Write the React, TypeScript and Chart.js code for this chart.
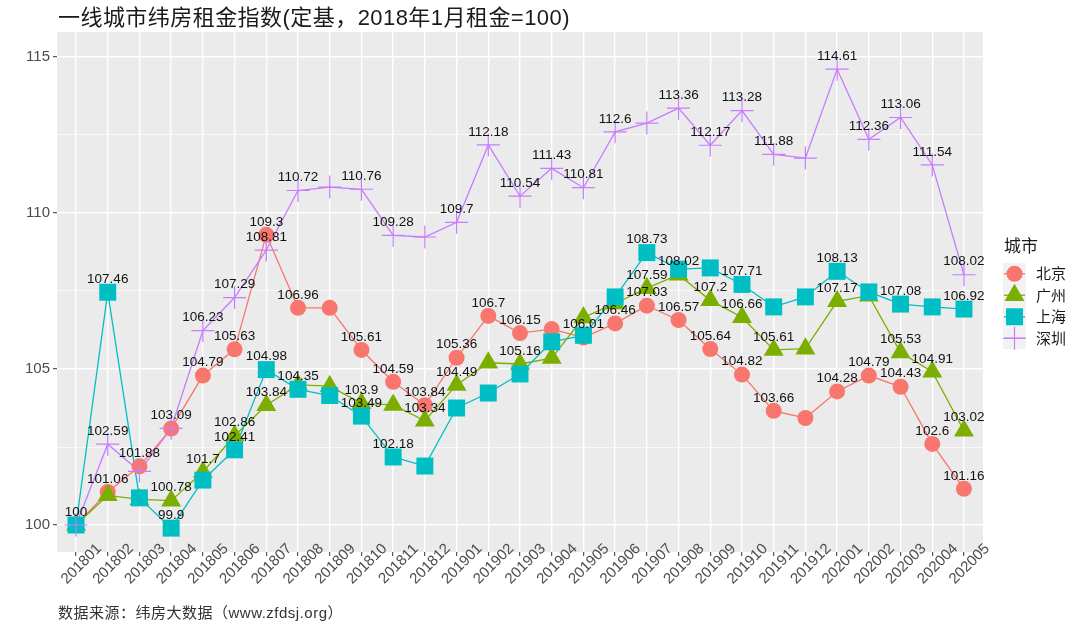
import { useEffect, useRef } from "react";
import { Chart, registerables } from "chart.js";

Chart.register(...registerables);

const months = [
  "201801", "201802", "201803", "201804", "201805", "201806", "201807", "201808", "201809", "201810",
  "201811", "201812", "201901", "201902", "201903", "201904", "201905", "201906", "201907", "201908",
  "201909", "201910", "201911", "201912", "202001", "202002", "202003", "202004", "202005",
];

const cities = ["北京", "广州", "上海", "深圳"];

const beijing = [100, 101.06, 101.88, 103.09, 104.79, 105.63, 109.3, 106.96, 106.96, 105.61, 104.59, 103.84, 105.36, 106.7, 106.15, 106.28, 106.01, 106.46, 107.03, 106.57, 105.64, 104.82, 103.66, 103.43, 104.28, 104.79, 104.43, 102.6, 101.16];
const guangzhou = [100, 100.95, 100.82, 100.78, 101.7, 102.86, 103.84, 104.49, 104.45, 103.9, 103.85, 103.34, 104.49, 105.2, 105.16, 105.35, 106.65, 107.1, 107.59, 108.02, 107.2, 106.66, 105.61, 105.65, 107.17, 107.35, 105.53, 104.91, 103.02];
const shanghai = [100, 107.46, 100.87, 99.9, 101.44, 102.41, 104.98, 104.35, 104.15, 103.49, 102.18, 101.89, 103.75, 104.23, 104.84, 105.87, 106.08, 107.31, 108.73, 108.2, 108.24, 107.71, 106.99, 107.31, 108.13, 107.47, 107.08, 106.99, 106.92];
const shenzhen = [100, 102.59, 101.72, 103.1, 106.23, 107.29, 108.81, 110.72, 110.83, 110.76, 109.28, 109.23, 109.7, 112.18, 110.54, 111.43, 110.81, 112.6, 112.88, 113.36, 112.17, 113.28, 111.88, 111.76, 114.61, 112.36, 113.06, 111.54, 108.02];

// indices whose value label is not printed (overlapping labels dropped in the original)
const beijingHiddenLabels = [8, 15, 23];
const guangzhouHiddenLabels = [0, 1, 2, 7, 8, 10, 13, 15, 16, 17, 23, 25];
const shanghaiHiddenLabels = [0, 2, 4, 8, 11, 12, 13, 14, 15, 16, 17, 19, 20, 22, 23, 25, 27];
const shenzhenHiddenLabels = [0, 2, 3, 8, 11, 18, 23];

const yMajorTicks = [100, 105, 110, 115];
const yMinorTicks = [102.5, 107.5, 112.5];

const titleText = "一线城市纬房租金指数(定基，2018年1月租金=100)";
const captionText = "数据来源：纬房大数据（www.zfdsj.org）";
const legendTitle = "城市";

const LATIN = '"Liberation Sans", Arial, "Noto Sans CJK SC", sans-serif';
const CJK = '"Noto Sans CJK SC", "Liberation Sans", sans-serif';

type Series = {
  name: string;
  values: number[];
  hidden: number[];
  color: string;
  style: "circle" | "triangle" | "rect" | "cross";
  radius: number;
};

const series: Series[] = [
  { name: cities[0], values: beijing, hidden: beijingHiddenLabels, color: "#F8766D", style: "circle", radius: 8 },
  { name: cities[1], values: guangzhou, hidden: guangzhouHiddenLabels, color: "#7CAE00", style: "triangle", radius: 11.5 },
  { name: cities[2], values: shanghai, hidden: shanghaiHiddenLabels, color: "#00BFC4", style: "rect", radius: 12 },
  { name: cities[3], values: shenzhen, hidden: shenzhenHiddenLabels, color: "#C77CFF", style: "cross", radius: 11.5 },
];

function drawMarker(ctx: CanvasRenderingContext2D, s: Series, x: number, y: number) {
  ctx.save();
  ctx.fillStyle = s.color;
  ctx.strokeStyle = s.color;
  const r = s.radius;
  if (s.style === "circle") {
    ctx.beginPath();
    ctx.arc(x, y, r, 0, Math.PI * 2);
    ctx.fill();
  } else if (s.style === "triangle") {
    ctx.beginPath();
    ctx.moveTo(x, y - r);
    ctx.lineTo(x + r * 0.866, y + r / 2);
    ctx.lineTo(x - r * 0.866, y + r / 2);
    ctx.closePath();
    ctx.fill();
  } else if (s.style === "rect") {
    const h = r * Math.SQRT1_2;
    ctx.fillRect(x - h, y - h, 2 * h, 2 * h);
  } else {
    ctx.lineWidth = 1.2;
    ctx.beginPath();
    ctx.moveTo(x - r, y);
    ctx.lineTo(x + r, y);
    ctx.moveTo(x, y - r);
    ctx.lineTo(x, y + r);
    ctx.stroke();
  }
  ctx.restore();
}

const panelBackground = {
  id: "panelBackground",
  beforeDraw(chart: any) {
    const { ctx, chartArea } = chart;
    ctx.save();
    ctx.fillStyle = "#EBEBEB";
    ctx.fillRect(chartArea.left, chartArea.top, chartArea.right - chartArea.left, chartArea.bottom - chartArea.top);
    ctx.restore();
  },
};

const valueLabels = {
  id: "valueLabels",
  afterDatasetsDraw(chart: any) {
    const { ctx } = chart;
    const xs = chart.scales.x;
    const ys = chart.scales.y;
    ctx.save();
    ctx.font = `13.5px ${LATIN}`;
    ctx.fillStyle = "#111111";
    ctx.textAlign = "center";
    ctx.textBaseline = "middle";
    series.forEach((s) => {
      s.values.forEach((v, i) => {
        if (s.hidden.includes(i)) return;
        ctx.fillText(String(v), xs.getPixelForValue(i), ys.getPixelForValue(v) - 13);
      });
    });
    ctx.restore();
  },
};

const xTickLabels = {
  id: "xTickLabels",
  afterDraw(chart: any) {
    const { ctx } = chart;
    const xs = chart.scales.x;
    const base = chart.chartArea.bottom;
    ctx.save();
    ctx.font = `15px ${LATIN}`;
    ctx.fillStyle = "#4D4D4D";
    ctx.textAlign = "center";
    ctx.textBaseline = "middle";
    months.forEach((m, i) => {
      ctx.save();
      ctx.translate(xs.getPixelForValue(i) + 5.5, base + 12);
      ctx.rotate(-Math.PI / 4);
      ctx.fillText(m, 0, 0);
      ctx.restore();
    });
    ctx.restore();
  },
};

const legendPlugin = {
  id: "customLegend",
  afterDraw(chart: any) {
    const { ctx } = chart;
    const left = 1003;
    const keyW = 23;
    const keyH = 21.5;
    const top0 = 263;
    ctx.save();
    ctx.font = `17px ${CJK}`;
    ctx.fillStyle = "#1A1A1A";
    ctx.textAlign = "left";
    ctx.textBaseline = "middle";
    ctx.fillText(legendTitle, left + 1, 246);
    series.forEach((s, k) => {
      const cy = top0 + keyH * k + keyH / 2;
      ctx.fillStyle = "#F2F2F2";
      ctx.fillRect(left, top0 + keyH * k, keyW, keyH);
      ctx.strokeStyle = s.color;
      ctx.lineWidth = 1.3;
      ctx.beginPath();
      ctx.moveTo(left + 1, cy);
      ctx.lineTo(left + keyW - 1, cy);
      ctx.stroke();
      drawMarker(ctx, s, left + keyW / 2, cy);
      ctx.font = `15px ${CJK}`;
      ctx.fillStyle = "#1A1A1A";
      ctx.fillText(s.name, left + 33, cy);
    });
    ctx.restore();
  },
};

export default function App() {
  const ref = useRef<HTMLCanvasElement | null>(null);

  useEffect(() => {
    const canvas = ref.current;
    if (!canvas) return;

    const lineSets = series.map((s, k) => ({
      label: s.name + "-line",
      data: s.values.map((v, i) => ({ x: i, y: v })),
      borderColor: s.color,
      backgroundColor: s.color,
      borderWidth: 1.3,
      pointRadius: 0,
      pointHoverRadius: 0,
      tension: 0,
      fill: false,
      order: 20 - k,
    }));
    const pointSets = series.map((s, k) => ({
      label: s.name,
      data: s.values.map((v, i) => ({ x: i, y: v })),
      showLine: false,
      pointStyle: s.style,
      pointRadius: s.radius,
      pointHoverRadius: s.radius,
      pointBackgroundColor: s.color,
      pointBorderColor: s.color,
      pointBorderWidth: s.style === "cross" ? 1.2 : 0,
      borderColor: s.color,
      backgroundColor: s.color,
      order: 10 - k,
    }));

    const chart = new Chart(canvas, {
      type: "line",
      data: { datasets: [...lineSets, ...pointSets] as any },
      options: {
        animation: false,
        responsive: false,
        events: [],
        layout: { padding: { top: 32, right: 97, bottom: 0, left: 0 } },
        plugins: {
          legend: { display: false },
          title: { display: false },
          tooltip: { enabled: false },
        },
        scales: {
          x: {
            type: "linear",
            min: -0.6,
            max: months.length - 1 + 0.6,
            afterBuildTicks: (scale: any) => {
              scale.ticks = months.map((_, i) => ({ value: i }));
            },
            afterFit: (scale: any) => {
              scale.height = 77;
            },
            ticks: { display: false },
            grid: {
              color: "#FFFFFF",
              lineWidth: 1.4,
              drawTicks: true,
              tickLength: 4,
              tickColor: "#333333",
              tickWidth: 1,
            },
            border: { display: false },
          },
          y: {
            type: "linear",
            min: 99.135,
            max: 115.8,
            afterBuildTicks: (scale: any) => {
              scale.ticks = [...yMajorTicks, ...yMinorTicks].sort((a, b) => a - b).map((v) => ({ value: v }));
            },
            afterFit: (scale: any) => {
              scale.width = 57;
            },
            ticks: {
              autoSkip: false,
              padding: 3,
              color: "#4D4D4D",
              font: { family: LATIN, size: 15 },
              callback: (v: any) => (yMajorTicks.includes(Number(v)) ? String(v) : ""),
            },
            grid: {
              color: "#FFFFFF",
              lineWidth: (c: any) => (yMajorTicks.includes(c.tick?.value) ? 1.4 : 0.7),
              drawTicks: true,
              tickLength: 4,
              tickWidth: 1,
              tickColor: (c: any) => (yMajorTicks.includes(c.tick?.value) ? "#333333" : "rgba(0,0,0,0)"),
            },
            border: { display: false },
          },
        },
      },
      plugins: [panelBackground, valueLabels, xTickLabels, legendPlugin],
    });

    return () => chart.destroy();
  }, []);

  return (
    <div style={{ position: "fixed", left: 0, top: 0, width: 1080, height: 629, background: "#FFFFFF" }}>
      <canvas ref={ref} width={1080} height={629} style={{ display: "block", width: 1080, height: 629 }} />
      <div
        style={{
          position: "absolute",
          left: 58,
          top: 7,
          fontFamily: LATIN,
          fontSize: 22,
          lineHeight: "22px",
          letterSpacing: "0.45px",
          color: "#1A1A1A",
          whiteSpace: "nowrap",
        }}
      >
        {titleText}
      </div>
      <div
        style={{
          position: "absolute",
          left: 58,
          top: 605,
          fontFamily: LATIN,
          fontSize: 15,
          lineHeight: "15px",
          letterSpacing: "0.5px",
          color: "#333333",
          whiteSpace: "nowrap",
        }}
      >
        {captionText}
      </div>
    </div>
  );
}
